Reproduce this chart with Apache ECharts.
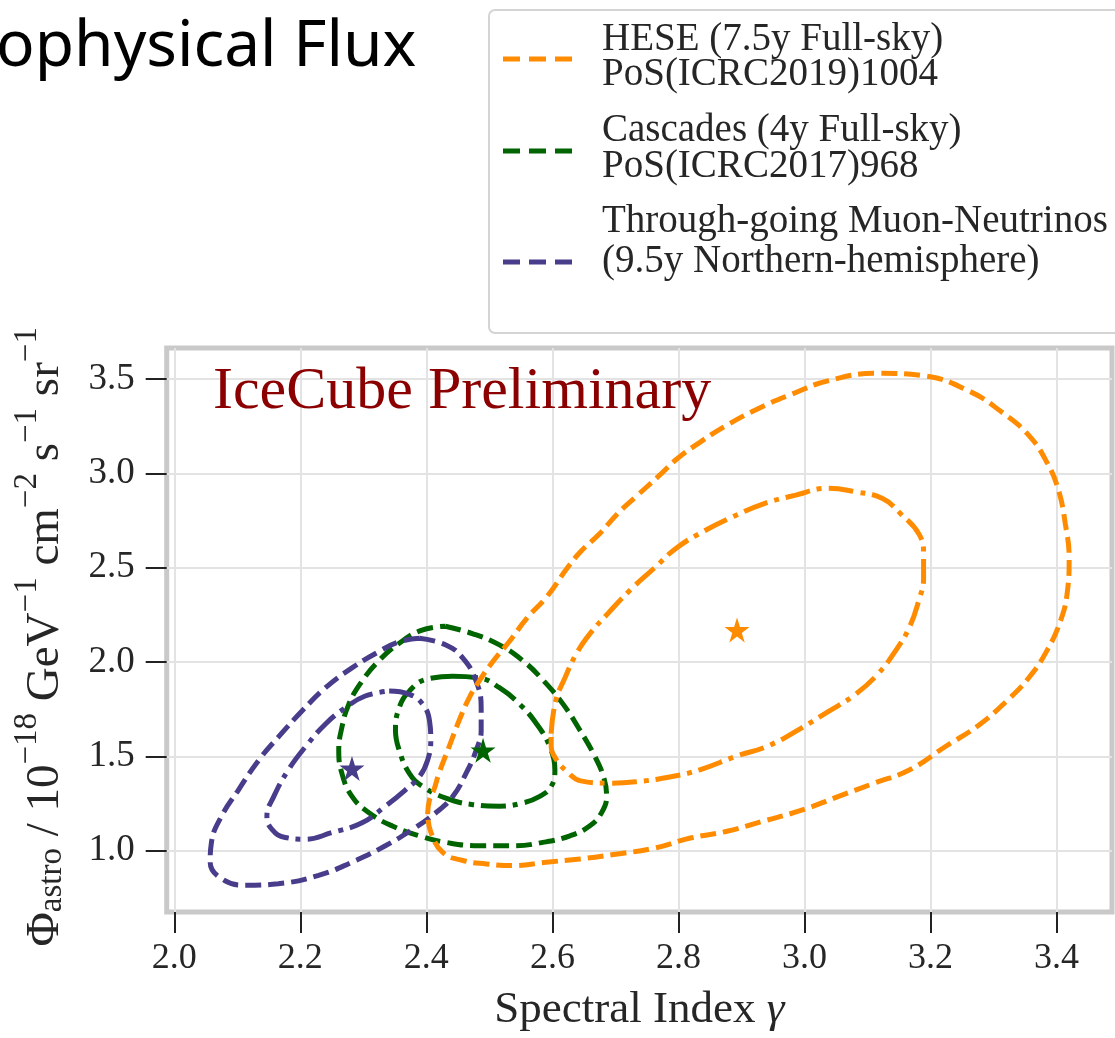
<!DOCTYPE html>
<html>
<head>
<meta charset="utf-8">
<script src="https://cdn.jsdelivr.net/npm/echarts@6/dist/echarts.min.js"></script>
<style>html,body{margin:0;padding:0;background:#fff;}#c{width:1115px;height:1038px;}</style>
</head>
<body>
<div id="c"></div>
<script>
// ---- data ----
const xTicks = [2.0, 2.2, 2.4, 2.6, 2.8, 3.0, 3.2, 3.4];
const yTicks = [1.0, 1.5, 2.0, 2.5, 3.0, 3.5];

const heseOuter = [[2.402,1.194],[2.405,1.270],[2.412,1.323],[2.420,1.410],[2.436,1.550],[2.452,1.690],[2.468,1.810],[2.484,1.900],[2.505,2.000],[2.532,2.110],[2.559,2.230],[2.592,2.350],[2.623,2.496],[2.645,2.586],[2.674,2.677],[2.703,2.785],[2.732,2.875],[2.768,2.984],[2.797,3.075],[2.834,3.165],[2.877,3.256],[2.928,3.346],[2.979,3.419],[3.037,3.491],[3.116,3.531],[3.189,3.518],[3.261,3.437],[3.312,3.328],[3.356,3.202],[3.385,3.057],[3.403,2.912],[3.414,2.731],[3.420,2.550],[3.417,2.369],[3.407,2.225],[3.385,2.062],[3.356,1.917],[3.320,1.791],[3.276,1.664],[3.225,1.555],[3.167,1.429],[3.109,1.356],[3.051,1.284],[2.993,1.212],[2.935,1.157],[2.877,1.103],[2.819,1.067],[2.761,1.013],[2.697,0.980],[2.644,0.956],[2.590,0.939],[2.537,0.921],[2.495,0.930],[2.458,0.948],[2.426,0.991],[2.407,1.100],[2.402,1.194]];
const heseInner = [[2.598,1.620],[2.605,1.791],[2.620,1.917],[2.638,2.044],[2.660,2.152],[2.689,2.261],[2.725,2.387],[2.761,2.496],[2.797,2.605],[2.841,2.695],[2.884,2.767],[2.935,2.839],[2.986,2.885],[3.037,2.921],[3.080,2.903],[3.124,2.867],[3.153,2.785],[3.182,2.677],[3.189,2.568],[3.189,2.442],[3.182,2.333],[3.167,2.188],[3.145,2.062],[3.116,1.935],[3.080,1.827],[3.037,1.736],[2.993,1.646],[2.942,1.555],[2.892,1.501],[2.834,1.429],[2.790,1.393],[2.732,1.365],[2.689,1.358],[2.645,1.370],[2.623,1.420],[2.605,1.490],[2.598,1.560],[2.598,1.620]];
const cascOuter = [[2.430,2.190],[2.474,2.150],[2.516,2.091],[2.553,2.008],[2.585,1.905],[2.617,1.777],[2.644,1.637],[2.665,1.515],[2.681,1.393],[2.686,1.288],[2.678,1.201],[2.659,1.131],[2.628,1.079],[2.585,1.044],[2.537,1.026],[2.484,1.026],[2.431,1.044],[2.389,1.079],[2.346,1.131],[2.309,1.201],[2.282,1.288],[2.266,1.410],[2.261,1.532],[2.266,1.654],[2.277,1.777],[2.298,1.899],[2.325,2.008],[2.357,2.100],[2.392,2.168],[2.430,2.190]];
const cascInner = [[2.442,1.925],[2.484,1.916],[2.516,1.864],[2.548,1.777],[2.575,1.672],[2.596,1.550],[2.604,1.428],[2.598,1.340],[2.580,1.288],[2.553,1.253],[2.516,1.236],[2.474,1.244],[2.431,1.279],[2.394,1.340],[2.373,1.410],[2.357,1.532],[2.351,1.637],[2.357,1.759],[2.373,1.846],[2.399,1.908],[2.442,1.925]];
const numuOuter = [[2.389,2.126],[2.431,2.091],[2.458,2.021],[2.479,1.899],[2.487,1.759],[2.487,1.637],[2.479,1.532],[2.463,1.410],[2.442,1.288],[2.415,1.201],[2.378,1.113],[2.335,1.026],[2.282,0.939],[2.229,0.869],[2.165,0.825],[2.112,0.817],[2.075,0.852],[2.057,0.939],[2.059,1.044],[2.075,1.183],[2.102,1.323],[2.134,1.480],[2.165,1.602],[2.203,1.742],[2.240,1.864],[2.282,1.969],[2.325,2.056],[2.357,2.108],[2.389,2.126]];
const numuInner = [[2.341,1.846],[2.373,1.829],[2.394,1.777],[2.405,1.689],[2.407,1.585],[2.402,1.480],[2.389,1.393],[2.367,1.323],[2.335,1.236],[2.298,1.148],[2.250,1.096],[2.208,1.061],[2.176,1.070],[2.155,1.113],[2.147,1.183],[2.158,1.288],[2.181,1.428],[2.208,1.550],[2.240,1.672],[2.272,1.759],[2.303,1.820],[2.341,1.846]];
const bestFits = [[2.893,2.170],[2.490,1.532],[2.282,1.436]];

const seriesNames = ['HESE (7.5y Full-sky)', 'Cascades (4y Full-sky)', 'Through-going Muon-Neutrinos (9.5y Northern-hemisphere)'];
const legendLines = [['HESE (7.5y Full-sky)', 'PoS(ICRC2019)1004'], ['Cascades (4y Full-sky)', 'PoS(ICRC2017)968'], ['Through-going Muon-Neutrinos', '(9.5y Northern-hemisphere)']];
const colors = ['#ff8c00', '#006400', '#483d8b'];

// ---- chart ----
const chart = echarts.init(document.getElementById('c'), null, {renderer: 'canvas'});
const SERIF = '"Liberation Serif", "DejaVu Serif", serif';
const DASH = [16, 7];
const DASHDOT = [25, 7, 5, 7];
const LW = 5;

// star symbol
let sp = [];
for (let k = 0; k < 10; k++) {
  const r = k % 2 === 0 ? 50 : 19.1;
  const a = -Math.PI / 2 + k * Math.PI / 5;
  sp.push((k === 0 ? 'M' : 'L') + (50 + r * Math.cos(a)).toFixed(2) + ' ' + (50 + r * Math.sin(a)).toFixed(2));
}
const STAR = 'path://' + sp.join(' ') + ' Z';

function contour(name, data, color, dash, z) {
  return {
    type: 'line', name: name, data: data, smooth: 0.45, symbol: 'none', z: z,
    lineStyle: {color: color, width: LW, type: dash, cap: 'butt'}, silent: true
  };
}

const series = [
  contour(seriesNames[1] + ' 90%', cascOuter, colors[1], DASH, 3),
  contour(seriesNames[1] + ' 68%', cascInner, colors[1], DASHDOT, 3),
  contour(seriesNames[2] + ' 90%', numuOuter, colors[2], DASH, 3),
  contour(seriesNames[2] + ' 68%', numuInner, colors[2], DASHDOT, 3),
  contour(seriesNames[0] + ' 90%', heseOuter, colors[0], DASH, 4),
  contour(seriesNames[0] + ' 68%', heseInner, colors[0], DASHDOT, 4)
];
bestFits.forEach((p, i) => {
  series.push({type: 'scatter', name: seriesNames[i] + ' best fit', data: [p], symbol: STAR, symbolSize: 25, z: 5,
    itemStyle: {color: colors[i], opacity: 1}, silent: true});
});

// legend graphic
const LEFT = 489, TOP = 10;
const legendG = [{
  type: 'rect', shape: {x: LEFT, y: TOP, width: 700, height: 323, r: 6},
  style: {fill: '#ffffff', stroke: '#d4d4d4', lineWidth: 2}, z: 10
}];
const rowLine = [59, 151, 262];
const rowText = [[40, 75], [131, 167], [222, 262]];
for (let i = 0; i < 3; i++) {
  legendG.push({type: 'line', shape: {x1: 503, y1: rowLine[i], x2: 572, y2: rowLine[i]},
    style: {stroke: colors[i], lineWidth: LW, lineDash: [17, 9]}, z: 11});
  for (let j = 0; j < 2; j++) {
    legendG.push({type: 'text', x: 602, y: rowText[i][j],
      style: {text: legendLines[i][j], font: '39px ' + SERIF, fill: '#262626', align: 'left', verticalAlign: 'middle'}, z: 11});
  }
}

const option = {
  animation: false,
  backgroundColor: '#ffffff',
  grid: {left: 166.7, top: 348, width: 945.3, height: 568, show: true, borderColor: '#c9c9c9', borderWidth: 5, backgroundColor: 'transparent'},
  xAxis: {
    type: 'value', min: 1.988, max: 3.488,
    axisLine: {show: false},
    axisTick: {show: true, length: 21, customValues: xTicks, lineStyle: {color: '#222', width: 2}},
    axisLabel: {customValues: xTicks, formatter: v => v.toFixed(1), margin: 29, fontFamily: SERIF, fontSize: 36, color: '#262626'},
    splitLine: {show: true, lineStyle: {color: '#e3e3e3', width: 2}},
    name: '{n|Spectral Index }{g|γ}', nameLocation: 'middle', nameGap: 76,
    nameTextStyle: {rich: {n: {fontFamily: SERIF, fontSize: 45, color: '#262626'}, g: {fontFamily: SERIF, fontSize: 45, fontStyle: 'italic', color: '#262626'}}}
  },
  yAxis: {
    type: 'value', min: 0.675, max: 3.665,
    axisLine: {show: false},
    axisTick: {show: true, length: 21, customValues: yTicks, lineStyle: {color: '#222', width: 2}},
    axisLabel: {customValues: yTicks, formatter: v => v.toFixed(1), margin: 32, fontFamily: SERIF, fontSize: 37, color: '#262626'},
    splitLine: {show: true, lineStyle: {color: '#e3e3e3', width: 2}},
    name: '{gap| }{n|Φ}{sub|astro}{n| / 10}{sup|−18}{n| GeV}{sup|−1}{n| cm}{sup|−2}{n| s}{sup|−1}{n| sr}{sup|−1}',
    nameLocation: 'middle', nameRotate: 90, nameGap: 98,
    nameTextStyle: {padding: [0, 14, 0, 0], rich: {
      gap: {fontSize: 1, lineHeight: 58, verticalAlign: 'bottom'},
      n: {fontFamily: SERIF, fontSize: 47, color: '#262626', lineHeight: 44, verticalAlign: 'bottom'},
      sup: {fontFamily: SERIF, fontSize: 33, color: '#262626', lineHeight: 34, verticalAlign: 'top'},
      sub: {fontFamily: SERIF, fontSize: 33, color: '#262626', lineHeight: 18, verticalAlign: 'bottom'}
    }}
  },
  graphic: [
    {type: 'text', x: -4, y: 48, style: {text: 'ophysical Flux', font: '64px "Noto Sans", sans-serif', fill: '#000', align: 'left', verticalAlign: 'middle'}, z: 10},
    {type: 'text', x: 213, y: 392, style: {text: 'IceCube Preliminary', font: '60px ' + SERIF, fill: '#8b0000', align: 'left', verticalAlign: 'middle'}, z: 10},
    {type: 'group', children: legendG, z: 10}
  ],
  series: series
};
chart.setOption(option);
</script>
</body>
</html>
